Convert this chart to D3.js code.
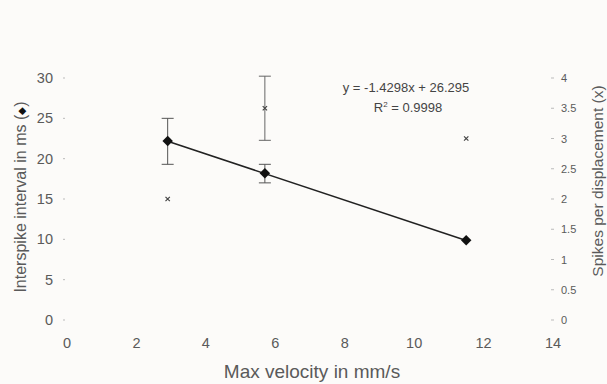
<!DOCTYPE html>
<html><head><meta charset="utf-8">
<script src="https://cdn.jsdelivr.net/npm/d3@7"></script>
<style>body{margin:0;background:#fcfbf9}svg{display:block}</style>
</head><body>
<script>
// Data
const velocities = [2.9, 5.7, 11.5];
const intervals = [22.2, 18.2, 9.9];
const intervalErrLow = [19.3, 17.0, 9.9];
const intervalErrHigh = [25.0, 19.3, 9.9];
const spikes = [2.0, 3.5, 3.0];
const spikesErrLow = [2.0, 2.97, 3.0];
const spikesErrHigh = [2.0, 4.03, 3.0];
const slope = -1.4298, intercept = 26.295;
const xTicks = [0, 2, 4, 6, 8, 10, 12, 14];
const yLeftTicks = [0, 5, 10, 15, 20, 25, 30];
const yRightTicks = [0, 0.5, 1, 1.5, 2, 2.5, 3, 3.5, 4];
const eqText = "y = -1.4298x + 26.295";
const r2Value = "0.9998";

const W = 607, H = 384;
const svg = d3.select("body").append("svg").attr("width", W).attr("height", H);
svg.append("rect").attr("width", W).attr("height", H).attr("fill", "#fcfbf9");

const x = d3.scaleLinear().domain([0, 14]).range([67, 553]);
const yL = d3.scaleLinear().domain([0, 30]).range([320, 78]);
const yR = d3.scaleLinear().domain([0, 4]).range([320, 78]);

const txt = "#5a5a5a";
const font = "Liberation Sans, Arial, sans-serif";

// x tick labels
svg.append("g").selectAll("text").data(xTicks).join("text")
  .attr("x", d => x(d)).attr("y", 348).attr("text-anchor", "middle")
  .attr("font-family", font).attr("font-size", 14.5).attr("fill", txt).text(d => d);

// left ticks
svg.append("g").selectAll("text").data(yLeftTicks).join("text")
  .attr("x", 53).attr("y", d => yL(d) + 5).attr("text-anchor", "end")
  .attr("font-family", font).attr("font-size", 14.5).attr("fill", txt).text(d => d);
svg.append("g").selectAll("line").data(yLeftTicks).join("line")
  .attr("x1", 63).attr("x2", 65).attr("y1", d => yL(d)).attr("y2", d => yL(d))
  .attr("stroke", "#bbb").attr("stroke-width", 1);

// right ticks
svg.append("g").selectAll("text").data(yRightTicks).join("text")
  .attr("x", 561).attr("y", d => yR(d) + 4).attr("text-anchor", "start")
  .attr("font-family", font).attr("font-size", 11).attr("fill", txt).text(d => d);
svg.append("g").selectAll("line").data(yRightTicks).join("line")
  .attr("x1", 551).attr("x2", 554).attr("y1", d => yR(d)).attr("y2", d => yR(d))
  .attr("stroke", "#bbb").attr("stroke-width", 1);

// axis titles
const lt = svg.append("text").attr("transform", "translate(26,197) rotate(-90)")
  .attr("text-anchor", "middle").attr("font-family", font).attr("font-size", 16)
  .attr("fill", txt);
lt.append("tspan").text("Interspike interval in ms (");
lt.append("tspan").attr("fill", "#111").attr("font-size", 10).attr("dy", -1).text("\u25C6");
lt.append("tspan").attr("dy", 1).text(")");
svg.append("text").attr("transform", "translate(603,181) rotate(-90)")
  .attr("text-anchor", "middle").attr("font-family", font).attr("font-size", 15.5)
  .attr("fill", txt).text("Spikes per displacement (x)");
svg.append("text").attr("x", 312).attr("y", 378).attr("text-anchor", "middle")
  .attr("font-family", font).attr("font-size", 19).attr("fill", txt).text("Max velocity in mm/s");

// spikes error bars
const eb2 = svg.append("g").attr("stroke", "#666").attr("stroke-width", 1);
velocities.forEach((v, i) => {
  if (spikesErrHigh[i] - spikesErrLow[i] > 0.01) {
    eb2.append("line").attr("x1", x(v)).attr("x2", x(v)).attr("y1", yR(spikesErrLow[i])).attr("y2", yR(spikesErrHigh[i]));
    [spikesErrLow[i], spikesErrHigh[i]].forEach(e =>
      eb2.append("line").attr("x1", x(v) - 6).attr("x2", x(v) + 6).attr("y1", yR(e)).attr("y2", yR(e)));
  }
});
// spikes markers
svg.append("g").selectAll("path").data(velocities).join("path")
  .attr("d", d3.symbol(d3.symbolTimes, 14)())
  .attr("transform", (d, i) => `translate(${x(d)},${yR(spikes[i])})`)
  .attr("stroke", "#444").attr("stroke-width", 1.2).attr("fill", "none");

// interval error bars
const eb = svg.append("g").attr("stroke", "#555").attr("stroke-width", 1);
velocities.forEach((v, i) => {
  if (intervalErrHigh[i] - intervalErrLow[i] > 0.01) {
    eb.append("line").attr("x1", x(v)).attr("x2", x(v)).attr("y1", yL(intervalErrLow[i])).attr("y2", yL(intervalErrHigh[i]));
    [intervalErrLow[i], intervalErrHigh[i]].forEach(e =>
      eb.append("line").attr("x1", x(v) - 6).attr("x2", x(v) + 6).attr("y1", yL(e)).attr("y2", yL(e)));
  }
});

// trend line
const x0 = d3.min(velocities), x1 = d3.max(velocities);
svg.append("line").attr("x1", x(x0)).attr("y1", yL(slope * x0 + intercept))
  .attr("x2", x(x1)).attr("y2", yL(slope * x1 + intercept))
  .attr("stroke", "#222").attr("stroke-width", 1.6);

// diamonds
svg.append("g").selectAll("path").data(velocities).join("path")
  .attr("d", d3.symbol(d3.symbolDiamond2, 70)())
  .attr("transform", (d, i) => `translate(${x(d)},${yL(intervals[i])})`)
  .attr("fill", "#111");

// equation
svg.append("text").attr("x", 406).attr("y", 92).attr("text-anchor", "middle")
  .attr("font-family", font).attr("font-size", 13).attr("fill", "#444").text(eqText);
const r2 = svg.append("text").attr("x", 408).attr("y", 112).attr("text-anchor", "middle")
  .attr("font-family", font).attr("font-size", 13).attr("fill", "#444");
r2.append("tspan").text("R");
r2.append("tspan").attr("dy", -5).attr("font-size", 8).text("2");
r2.append("tspan").attr("dy", 5).text(" = " + r2Value);
</script>
</body></html>
